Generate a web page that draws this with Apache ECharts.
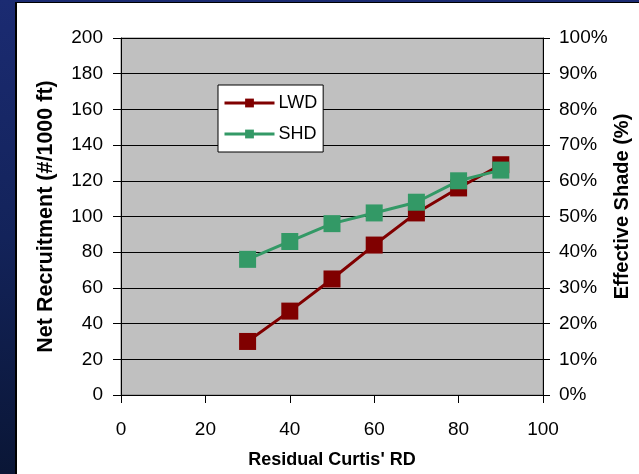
<!DOCTYPE html>
<html>
<head>
<meta charset="utf-8">
<script src="https://cdn.jsdelivr.net/npm/echarts@6/dist/echarts.min.js"></script>
<style>
  html, body { margin: 0; padding: 0; }
  #wrap { position: relative; width: 639px; height: 474px; overflow: hidden;
          background: linear-gradient(to bottom, #1b2b72 0%, #13235a 50%, #0a1636 100%); }
  #panel { position: absolute; left: 15px; top: 2px; right: 0; bottom: 0;
           background: #ffffff; border-left: 2px solid #000; border-top: 1px solid #000; }
  #chart { position: absolute; left: 0; top: 0; width: 639px; height: 474px; }
</style>
</head>
<body>
<div id="wrap">
  <div id="panel"></div>
  <div id="chart"></div>
</div>
<script>
// Residual Curtis' RD values
const rd = [30, 40, 50, 60, 70, 80, 90];
// Net recruitment (#/1000 ft) for large woody debris
const lwd = [30, 47, 65, 84, 102, 116, 129];
// Effective shade (%)
const shd = [38, 43, 48, 51, 54, 60, 63];

const FONT = 'Liberation Sans, Arial, sans-serif';
const TICK_SIZE = 19;

const chart = echarts.init(document.getElementById('chart'), null, { renderer: 'canvas' });

chart.setOption({
  backgroundColor: 'transparent',
  animation: false,
  textStyle: { fontFamily: FONT, color: '#000' },
  grid: {
    left: 121, right: 96, top: 38, bottom: 79,
    outerBoundsMode: 'none',
    containLabel: false,
    show: true, backgroundColor: '#c0c0c0', borderColor: '#808080', borderWidth: 1
  },
  legend: {
    orient: 'vertical',
    left: 218, top: 85,
    padding: [9, 6, 9, 5],
    backgroundColor: '#ffffff',
    borderColor: '#000',
    borderWidth: 1,
    itemWidth: 50,
    itemHeight: 11,
    itemGap: 13,
    lineStyle: { width: 3 },
    textStyle: { fontFamily: FONT, fontSize: 18, color: '#000', padding: [0, 0, 0, -1] },
    data: ['LWD', 'SHD']
  },
  xAxis: {
    type: 'value', min: 0, max: 100, interval: 20,
    name: "Residual Curtis' RD",
    nameLocation: 'middle', nameGap: 56, nameMoveOverlap: false,
    nameTextStyle: { fontFamily: FONT, fontSize: 18, fontWeight: 'bold', color: '#000' },
    axisLine: { show: true, lineStyle: { color: '#000', width: 1 } },
    axisTick: { show: true, length: 8, lineStyle: { color: '#000' } },
    axisLabel: { fontFamily: FONT, fontSize: TICK_SIZE, color: '#000', margin: 25 },
    splitLine: { show: false }
  },
  yAxis: [
    {
      type: 'value', min: 0, max: 200, interval: 20,
      name: 'Net Recruitment (#/1000 ft)',
      nameLocation: 'middle', nameGap: 64, nameMoveOverlap: false,
      nameTextStyle: { fontFamily: FONT, fontSize: 21.5, fontWeight: 'bold', color: '#000' },
      axisLine: { show: true, lineStyle: { color: '#000', width: 1 } },
      axisTick: { show: true, length: 8, lineStyle: { color: '#000' } },
      axisLabel: { fontFamily: FONT, fontSize: TICK_SIZE, color: '#000', margin: 18 },
      splitLine: { show: true, lineStyle: { color: '#000', width: 1 } }
    },
    {
      type: 'value', min: 0, max: 100, interval: 10, position: 'right',
      name: 'Effective Shade (%)',
      nameLocation: 'middle', nameGap: 69, nameRotate: 90, nameMoveOverlap: false,
      nameTextStyle: { fontFamily: FONT, fontSize: 20, fontWeight: 'bold', color: '#000',
                       padding: [0, 0, 0, 20] },
      axisLine: { show: true, lineStyle: { color: '#000', width: 1 } },
      axisTick: { show: true, length: 7, lineStyle: { color: '#000' } },
      axisLabel: { fontFamily: FONT, fontSize: TICK_SIZE, color: '#000', margin: 16, formatter: '{value}%' },
      splitLine: { show: false }
    }
  ],
  series: [
    {
      name: 'LWD', type: 'line', yAxisIndex: 0,
      data: rd.map((x, i) => [x, lwd[i]]),
      symbol: 'rect', symbolSize: 17,
      lineStyle: { color: '#800000', width: 3 },
      itemStyle: { color: '#800000' },
      z: 2
    },
    {
      name: 'SHD', type: 'line', yAxisIndex: 1,
      data: rd.map((x, i) => [x, shd[i]]),
      symbol: 'rect', symbolSize: 17,
      lineStyle: { color: '#339966', width: 3 },
      itemStyle: { color: '#339966' },
      z: 3
    }
  ]
});
</script>
</body>
</html>
